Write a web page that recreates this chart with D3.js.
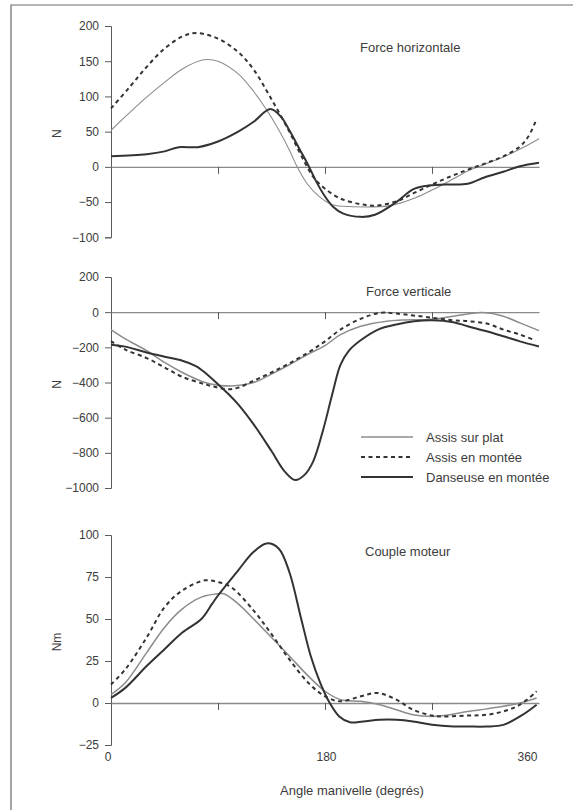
<!DOCTYPE html>
<html>
<head>
<meta charset="utf-8">
<script src="https://cdn.jsdelivr.net/npm/d3@7"></script>
<style>
  body { margin: 0; background: #fff; }
  svg text { font-family: "Liberation Sans", Arial, sans-serif; fill: #3c3c3c; }
</style>
</head>
<body>
<svg id="fig" width="573" height="810"></svg>
<script>
// angle (deg) / value pairs
var fhPlat = [[0,52],[15,76],[30,99],[45,120],[60,139],[78,152],[90,150],[107,132],[120,107],[135,70],[150,24],[156,2],[165,-24],[175,-42],[185,-53],[195,-56],[235,-55],[256,-44],[270,-33],[288,-17],[300,-6],[315,4],[330,14],[345,26],[360,40]];
var fhMontee = [[0,83],[15,112],[30,142],[45,168],[60,185],[72,190],[90,182],[107,163],[120,138],[135,96],[150,50],[160,16],[170,-14],[180,-31],[193,-45],[210,-53],[222,-55],[240,-49],[255,-37],[270,-25],[285,-14],[300,-4],[315,5],[330,15],[344,29],[351,43],[357,64]];
var fhDanseuse = [[0,15],[30,18],[45,22],[57,28],[73,28],[90,36],[107,50],[120,64],[134,82],[143,71],[150,52],[159,24],[166,2],[173,-22],[180,-42],[187,-57],[195,-66],[210,-71],[222,-68],[240,-50],[254,-32],[265,-27],[280,-25],[300,-24],[314,-15],[330,-7],[344,1],[360,6]];

var fvPlat = [[0,-99],[12,-152],[30,-219],[45,-286],[60,-343],[79,-400],[90,-415],[104,-419],[120,-400],[135,-352],[150,-299],[166,-238],[180,-190],[193,-128],[210,-80],[232,-51],[245,-45],[270,-40],[288,-23],[300,-10],[313,-2],[330,-23],[344,-61],[360,-105]];
var fvMontee = [[0,-165],[12,-213],[30,-261],[45,-314],[60,-368],[79,-410],[90,-429],[99,-438],[107,-429],[120,-390],[135,-343],[150,-291],[166,-229],[180,-166],[193,-99],[210,-38],[226,-4],[240,-8],[270,-32],[288,-46],[300,-51],[316,-65],[330,-99],[344,-128],[357,-160]];
var fvDanseuse = [[0,-185],[12,-196],[30,-229],[45,-253],[60,-276],[71,-305],[79,-343],[90,-410],[99,-467],[107,-524],[120,-638],[135,-790],[146,-905],[155,-955],[163,-924],[170,-850],[178,-680],[186,-470],[193,-300],[200,-220],[210,-160],[226,-95],[240,-70],[255,-52],[270,-46],[288,-57],[300,-80],[316,-109],[330,-137],[344,-166],[360,-195]];

var cmPlat = [[0,5],[12,12],[30,30],[45,45],[60,56],[76,63],[90,65],[95,65],[107,59],[120,50],[135,39],[150,28],[166,16],[180,7],[193,2],[210,1],[226,-1],[240,-4],[254,-7],[270,-8],[285,-7],[300,-5],[316,-3.5],[330,-2],[344,0],[358,3]];
var cmMontee = [[0,11],[12,20],[30,39],[45,57],[60,67],[79,73],[90,72],[101,69],[120,55],[135,41],[150,26],[166,12],[180,4],[193,1],[210,4],[224,6],[240,2],[254,-4],[270,-7.5],[277,-8],[300,-7.5],[316,-7],[330,-5],[344,-1],[358,7]];
var cmDanseuse = [[0,3],[12,9],[30,22],[45,32],[60,42],[76,50],[85,59],[90,64],[107,79],[120,90],[131,95],[141,92],[150,78],[160,50],[168,28],[176,12],[184,0],[192,-8],[201,-11.5],[212,-11],[226,-10],[240,-10],[254,-11],[270,-13],[288,-14],[300,-14],[316,-14],[330,-13],[344,-8],[358,-1]];

var fhTicks = [-100,-50,0,50,100,150,200];
var fvTicks = [-1000,-800,-600,-400,-200,0,200];
var cmTicks = [-25,0,25,50,75,100];
var angleTicks = [0,180,360];
var seriesNames = ["Assis sur plat","Assis en montée","Danseuse en montée"];

var fig = d3.select("#fig");

// scanned page frame
fig.append("path").attr("d","M573,5H11V810").attr("fill","none").attr("stroke","#6a6a6a").attr("stroke-width",1.2);

var x = d3.scaleLinear().domain([0,360]).range([111,539]);

var styles = [
  {stroke:"#8c8c8c", width:1.4, dash:null},
  {stroke:"#333", width:2, dash:"4,3.5"},
  {stroke:"#333", width:2, dash:null}
];

var panels = [
  {title:"Force horizontale", unit:"N", series:[fhPlat,fhMontee,fhDanseuse], ticks:fhTicks, dom:[-100,200], rng:[237.3,26], tx:360, ty:52, thin:1.1},
  {title:"Force verticale", unit:"N", series:[fvPlat,fvMontee,fvDanseuse], ticks:fvTicks, dom:[-1000,200], rng:[488,277], tx:366, ty:296, thin:1.5},
  {title:"Couple moteur", unit:"Nm", series:[cmPlat,cmMontee,cmDanseuse], ticks:cmTicks, dom:[-25,100], rng:[745,535], tx:365, ty:556, thin:1.5}
];

panels.forEach(function(p, i){
  var y = d3.scaleLinear().domain(p.dom).range(p.rng);
  var g = fig.append("g");

  // y axis
  var ya = g.append("g").attr("transform","translate(111,0)")
    .call(d3.axisLeft(y).tickValues(p.ticks).tickFormat(d3.format("d")).tickSize(6).tickSizeOuter(6).tickPadding(6));
  ya.selectAll("path,line").attr("stroke","#5a5a5a");
  ya.selectAll("text").attr("font-size",12).style("font-family","Liberation Sans, Arial, sans-serif").attr("fill","#3c3c3c");

  // zero line with 90° ticks
  var za = g.append("g").attr("transform","translate(0,"+y(0)+")")
    .call(d3.axisBottom(x).tickValues([90,180,270]).tickSize(7).tickSizeOuter(0).tickFormat(""));
  za.selectAll("path").attr("stroke","#8a8a8a").attr("stroke-width",1.3);
  za.selectAll("line").attr("stroke","#5a5a5a");

  g.append("text").attr("transform","translate(61,"+((y(p.dom[0])+y(p.dom[1]))/2+2)+") rotate(-90)")
    .attr("text-anchor","middle").attr("font-size",12).text(p.unit);

  g.append("text").attr("x",p.tx).attr("y",p.ty).attr("font-size",13).text(p.title);

  var line = d3.line().x(function(d){ return x(d[0]); }).y(function(d){ return y(d[1]); }).curve(d3.curveCatmullRom.alpha(0.5));
  p.series.forEach(function(s, k){
    g.append("path").datum(s).attr("d",line).attr("fill","none")
      .attr("stroke",styles[k].stroke)
      .attr("stroke-width",k==0 ? p.thin : styles[k].width)
      .attr("stroke-dasharray",styles[k].dash);
  });

  if (i == 2) {
    var xa = g.append("g").attr("transform","translate(0,752)")
      .call(d3.axisBottom(x).tickValues(angleTicks).tickSize(0).tickPadding(0));
    xa.select(".domain").remove();
    xa.selectAll("text").attr("font-size",12).attr("dy","0.71em").style("font-family","Liberation Sans, Arial, sans-serif").attr("fill","#3c3c3c")
      .attr("text-anchor",function(d){ return d==180 ? "middle" : "end"; })
      .attr("dx",function(d){ return d==0 ? 0 : (d==360 ? -2 : 1); });
    g.append("text").attr("x",x(180)+27).attr("y",795).attr("text-anchor","middle").attr("font-size",13).text("Angle manivelle (degrés)");
  }
});

// legend (middle panel)
var leg = fig.append("g").attr("transform","translate(361,437)");
seriesNames.forEach(function(n, k){
  leg.append("line").attr("x1",0).attr("x2",52).attr("y1",k*20).attr("y2",k*20)
    .attr("stroke",styles[k].stroke).attr("stroke-width",k==0 ? 1.5 : 2).attr("stroke-dasharray",styles[k].dash);
  leg.append("text").attr("x",65).attr("y",k*20+4.5).attr("font-size",13).text(n);
});
</script>
</body>
</html>
